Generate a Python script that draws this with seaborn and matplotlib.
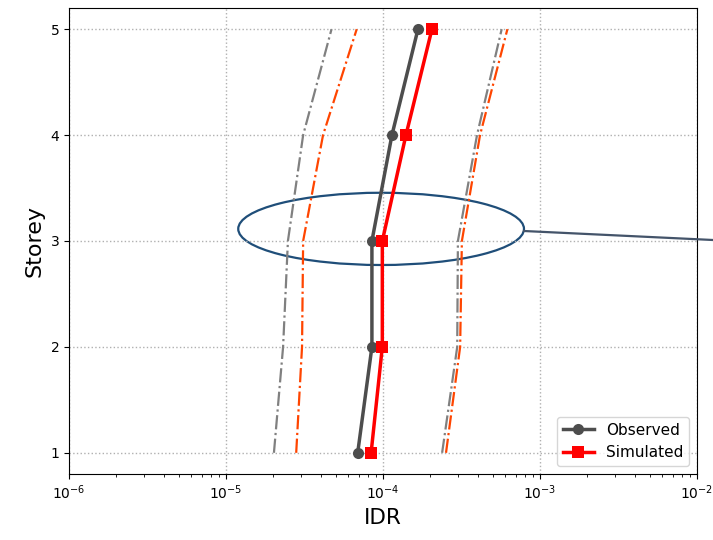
import numpy as np
import pandas as pd
import matplotlib
matplotlib.use("Agg")
import matplotlib.pyplot as plt
import seaborn as sns
from matplotlib.patches import Ellipse
from matplotlib.lines import Line2D

storeys = [1, 2, 3, 4, 5]
observed = [6.9e-5, 8.5e-5, 8.5e-5, 1.14e-4, 1.67e-4]
simulated = [8.4e-5, 9.9e-5, 9.9e-5, 1.40e-4, 2.05e-4]
obs_lower = [2.02e-5, 2.31e-5, 2.48e-5, 3.1e-5, 4.7e-5]
obs_upper = [2.38e-4, 2.97e-4, 3.0e-4, 3.97e-4, 5.7e-4]
sim_lower = [2.8e-5, 3.05e-5, 3.1e-5, 4.15e-5, 6.8e-5]
sim_upper = [2.52e-4, 3.1e-4, 3.18e-4, 4.15e-4, 6.2e-4]

plt.rcdefaults()
fig = plt.figure(figsize=(7.13, 5.4), dpi=100)
ax = fig.add_axes([69/713, 66/540, 628/713, 466/540])

def dd(xv, color):
    sns.lineplot(x=xv, y=storeys, sort=False, estimator=None, ax=ax,
                 color=color, linestyle="-.", linewidth=1.6, legend=False)

dd(obs_lower, "gray")
dd(obs_upper, "gray")
dd(sim_lower, "orangered")
dd(sim_upper, "orangered")

sns.lineplot(x=observed, y=storeys, sort=False, estimator=None, ax=ax,
             color="#4d4d4d", marker="o", markersize=8, linewidth=2.5,
             markeredgewidth=0, label="Observed")
sns.lineplot(x=simulated, y=storeys, sort=False, estimator=None, ax=ax,
             color="red", marker="s", markersize=8, linewidth=2.5,
             markeredgewidth=0, label="Simulated")

ax.set_xscale("log")
ax.set_xlim(1e-6, 1e-2)
ax.set_ylim(0.8, 5.2)
ax.set_yticks(storeys)
ax.grid(True, which="major", linestyle=":", color="#b0b0b0", linewidth=1)
ax.set_xlabel("IDR", fontsize=15.5)
ax.set_ylabel("Storey", fontsize=16)
ax.tick_params(labelsize=10)

ax.legend(loc="lower right", fontsize=11, frameon=True)

ell = Ellipse((0.497, 0.526), 0.455, 0.155, transform=ax.transAxes,
              fill=False, edgecolor="#1f4e79", linewidth=1.6, clip_on=False)
ax.add_patch(ell)
fig.add_artist(Line2D([524/713, 1.0], [1-231/540, 1-240/540],
                      transform=fig.transFigure, color="#44546a", linewidth=1.6))

fig.savefig("out.png", dpi=100)
